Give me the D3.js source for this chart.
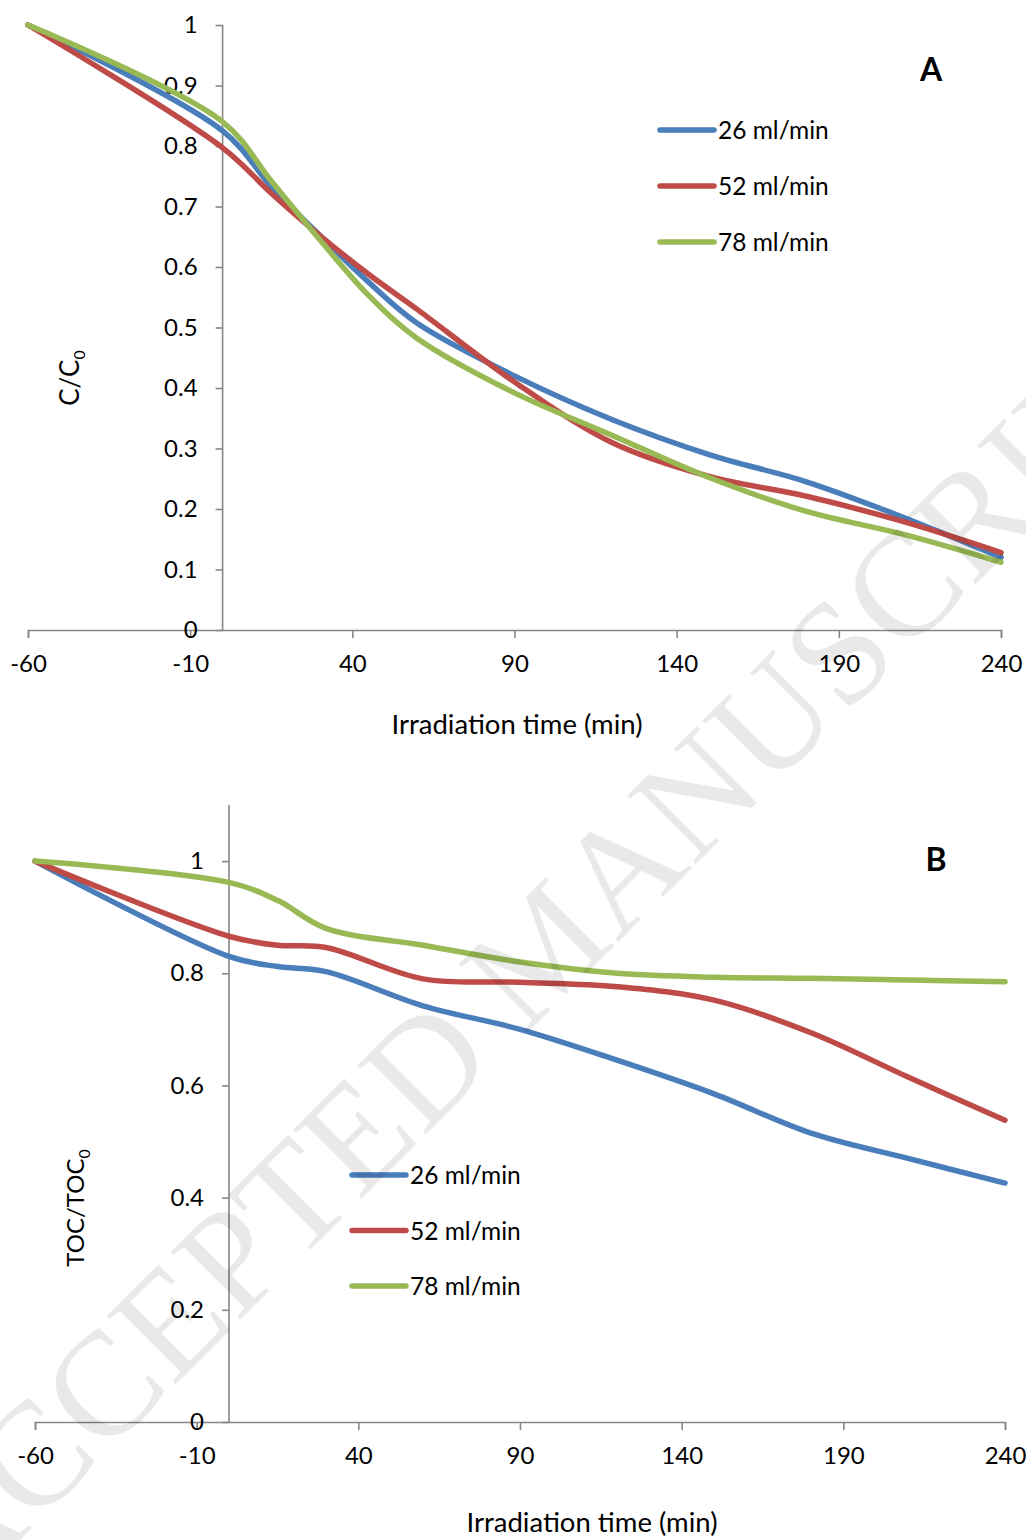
<!DOCTYPE html>
<html>
<head>
<meta charset="utf-8">
<script src="https://cdn.jsdelivr.net/npm/d3@7"></script>
<style>
  body { margin: 0; background: #fff; }
  svg { display: block; }
  text { font-family: Lato, "Open Sans", sans-serif; }
</style>
</head>
<body>
<script>
// series names and colours
const seriesNames = ["26 ml/min", "52 ml/min", "78 ml/min"];
const seriesColors = ["#4A7EBB", "#BE4B48", "#98B954"];
const xTicks = [-60, -10, 40, 90, 140, 190, 240];

// panel A: C/C0
const timesA = [-60, 0, 15, 30, 45, 60, 90, 120, 150, 180, 210, 240];
const blueA  = [1, 0.825, 0.733, 0.652, 0.575, 0.507, 0.42, 0.348, 0.29, 0.245, 0.186, 0.12];
const redA   = [1, 0.797, 0.722, 0.652, 0.588, 0.53, 0.41, 0.31, 0.254, 0.221, 0.179, 0.128];
const greenA = [1, 0.84, 0.742, 0.645, 0.553, 0.482, 0.392, 0.322, 0.252, 0.196, 0.158, 0.112];
const yTicksA = [0, 0.1, 0.2, 0.3, 0.4, 0.5, 0.6, 0.7, 0.8, 0.9, 1];

// panel B: TOC/TOC0
const timesB = [-60, 0, 15, 30, 60, 90, 120, 150, 180, 210, 240];
const blueB  = [1, 0.83, 0.812, 0.803, 0.742, 0.70, 0.645, 0.585, 0.515, 0.47, 0.426];
const redB   = [1, 0.866, 0.85, 0.846, 0.79, 0.784, 0.776, 0.752, 0.694, 0.615, 0.538];
const greenB = [1, 0.962, 0.93, 0.88, 0.85, 0.82, 0.80, 0.793, 0.791, 0.788, 0.785];
const yTicksB = [0, 0.2, 0.4, 0.6, 0.8, 1];

const svg = d3.select("body").append("svg")
	.attr("width", 1026)
	.attr("height", 1540);

function panel(opt) {
	const g = svg.append("g");
	const x = d3.scaleLinear().domain([-60, 240]).range(opt.xRange);
	const y = d3.scaleLinear().domain(opt.yDomain).range(opt.yRange);

	// x axis
	const xa = g.append("g")
		.attr("transform", `translate(0,${y(0)})`)
		.call(d3.axisBottom(x).tickValues(xTicks).tickSize(8).tickPadding(17).tickFormat(d => String(d)));
	// y axis crossing at x = 0
	const ya = g.append("g")
		.attr("transform", `translate(${x(0)},0)`)
		.call(d3.axisLeft(y).tickValues(opt.yTicks).tickSize(7).tickPadding(18).tickFormat(d => String(d)));
	[xa, ya].forEach(a => {
		a.select(".domain").attr("stroke", "#868686").attr("stroke-width", 1.6);
		a.selectAll(".tick line").attr("stroke", "#868686").attr("stroke-width", 1.6);
		a.selectAll(".tick text").style("font-size", "24px").style("font-family", "Lato, sans-serif").attr("fill", "#000");
	});
	// y axis runs to top of domain
	ya.select(".domain").attr("d", `M0,${y(0)}V${opt.yRange[1]}`);

	const line = d3.line()
		.x(d => x(d[0]))
		.y(d => y(d[1]))
		.curve(d3.curveCatmullRom.alpha(0.5));

	opt.series.forEach((vals, i) => {
		g.append("path")
			.datum(opt.times.map((t, j) => [t, vals[j]]))
			.attr("fill", "none")
			.attr("stroke", seriesColors[i])
			.attr("stroke-width", 5.5)
			.attr("stroke-linecap", "round")
			.attr("d", line);
	});

	// legend
	seriesNames.forEach((name, i) => {
		const ly = opt.legend[1] + i * opt.legendGap;
		g.append("line")
			.attr("x1", opt.legend[0]).attr("x2", opt.legend[0] + 54)
			.attr("y1", ly).attr("y2", ly)
			.attr("stroke", seriesColors[i])
			.attr("stroke-width", 5.5)
			.attr("stroke-linecap", "round");
		g.append("text")
			.attr("x", opt.legend[0] + 58).attr("y", ly + 9)
			.style("font-size", "24.5px")
			.text(name);
	});

	// axis titles
	g.append("text")
		.attr("x", opt.xTitle[0]).attr("y", opt.xTitle[1])
		.attr("text-anchor", "middle")
		.style("font-size", "27.5px")
		.text("Irradiation time (min)");
	const yt = g.append("text")
		.attr("transform", `translate(${opt.yTitle[0]},${opt.yTitle[1]}) rotate(-90)`)
		.attr("text-anchor", "middle")
		.style("font-size", opt.yTitleSize);
	yt.append("tspan").text(opt.yLabel);
	yt.append("tspan").attr("dy", 6).style("font-size", "16px").text("0");

	g.append("text")
		.attr("x", opt.letter[0]).attr("y", opt.letter[1])
		.attr("text-anchor", "middle")
		.style("font-size", "32px")
		.style("font-weight", "bold")
		.text(opt.name);
}

panel({
	name: "A", letter: [931, 81],
	xRange: [28, 1001], yDomain: [0, 1], yRange: [630, 25], yTicks: yTicksA,
	times: timesA, series: [blueA, redA, greenA],
	legend: [660, 130], legendGap: 56,
	xTitle: [517, 734], yTitle: [79, 378], yLabel: "C/C", yTitleSize: "26px"
});

panel({
	name: "B", letter: [936, 871],
	xRange: [35, 1005], yDomain: [0, 1.1], yRange: [1422, 805], yTicks: yTicksB,
	times: timesB, series: [blueB, redB, greenB],
	legend: [352, 1175], legendGap: 55.5,
	xTitle: [592, 1532], yTitle: [84, 1208], yLabel: "TOC/TOC", yTitleSize: "24px"
});

// watermark
svg.append("text")
	.attr("transform", "translate(578,982) rotate(-45)")
	.attr("text-anchor", "middle")
	.style("font-family", "'Liberation Serif', 'DejaVu Serif', serif")
	.style("font-size", "148px")
	.style("fill", "rgba(0,0,0,0.085)")
	.text("ACCEPTED MANUSCRIPT");
</script>
</body>
</html>
